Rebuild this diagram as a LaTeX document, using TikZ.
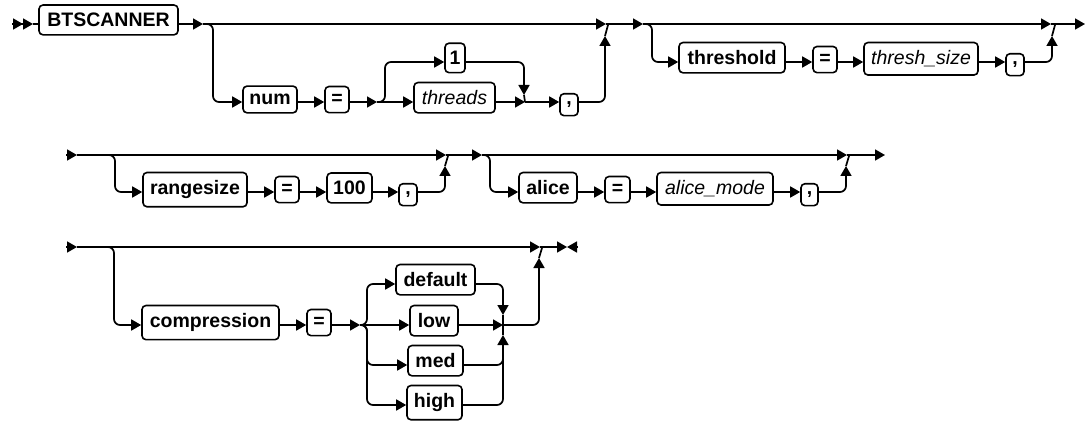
\documentclass[tikz,border=0pt]{standalone}
\usepackage{fontspec}
\setmainfont{Liberation Sans}
\usetikzlibrary{arrows.meta}
\begin{document}
\begin{tikzpicture}[x=1pt,y=-1pt,
  line width=1.7pt,
  tip/.style={-{Triangle[length=10pt,width=11pt]}},
  dtip/.style={-{Triangle[length=10pt,width=11pt]Triangle[length=10pt,width=11pt]}},
  rc/.style={rounded corners=6pt},
  kw/.style={draw, rounded corners=4pt, line width=1.6pt,
    font=\fontsize{19.5}{22}\selectfont\bfseries,
    inner xsep=3pt, inner ysep=8pt, anchor=mid, minimum height=0pt},
  var/.style={kw, font=\fontsize{19.5}{22}\selectfont\itshape},
]
\useasboundingbox (0,0) rectangle (1086,422);

% ---------- nodes, row 1
\node[kw, minimum width=139pt] (bts) at (108.5,24) {BTSCANNER};
\node[kw, minimum width=54pt] (num) at (270,102) {num};
\node[kw, minimum width=24pt] (eq1) at (337,102) {=};
\node[kw, minimum width=20pt] (one) at (455,62) {1};
\node[var, minimum width=81pt] (threads) at (454.5,102) {threads};
\node[kw, minimum width=18pt] (comma1) at (569,102) {,};
\node[kw, minimum width=106pt] (threshold) at (732,62) {threshold};
\node[kw, minimum width=24pt] (eq2) at (825,62) {=};
\node[var, minimum width=114pt] (threshsize) at (921,62) {thresh\_size};
\node[kw, minimum width=18pt] (comma2) at (1015,62) {,};
% ---------- nodes, row 2
\node[kw, minimum width=104pt] (rangesize) at (195,192) {rangesize};
\node[kw, minimum width=24pt] (eq3) at (287,192) {=};
\node[kw, minimum width=45pt] (hundred) at (349.5,192) {100};
\node[kw, minimum width=18pt] (comma3) at (408,192) {,};
\node[kw, minimum width=58pt] (alice) at (548,192) {alice};
\node[kw, minimum width=25pt] (eq4) at (617.5,192) {=};
\node[var, minimum width=116pt] (alicemode) at (715,192) {alice\_mode};
\node[kw, minimum width=17pt] (comma4) at (809.5,192) {,};
% ---------- nodes, row 3
\node[kw, minimum width=137pt] (compression) at (210.5,325) {compression};
\node[kw, minimum width=24pt] (eq5) at (319,325) {=};
\node[kw, minimum width=79pt] (default) at (435.5,284) {default};
\node[kw, minimum width=48pt] (low) at (434,325) {low};
\node[kw, minimum width=55pt] (med) at (435.5,365) {med};
\node[kw, minimum width=55pt] (high) at (434.5,405) {high};

% ---------- row 1 connectors
\coordinate (s1) at (12,24);
\coordinate (s1b) at (33,24);
\draw[dtip] (s1) -- (s1b);
\draw (s1b) -- (bts.mid west);
\coordinate (j1) at (203,24);
\draw[tip] (bts.mid east) -- (j1);
\coordinate (m1) at (606,24);
\draw[tip] (j1) -- (m1);
\draw[rc,tip] (j1) -| (213,60) |- (num.mid west);
\draw[tip] (num.mid east) -- (eq1.mid west);
\coordinate (j3) at (377,102);
\draw[tip] (eq1.mid east) -- (j3);
\draw[tip] (j3) -- (threads.mid west);
\draw[rc,tip] (j3) -| (385,80) |- (one.mid west);
\coordinate (j4) at (525,102);
\coordinate (t1) at (524,95);
\draw[tip] (threads.mid east) -- (j4);
\draw[rc,tip] (one.mid east) -| (t1);
\draw (t1) -- (j4);
\draw[tip] (j4) -- (comma1.mid west);
\coordinate (t2) at (605,36);
\draw[rc,tip] (comma1.mid east) -| (t2);
\draw (t2) -- (608,25);
\coordinate (j5) at (643,24);
\draw[tip] (m1) -- (j5);
\coordinate (m2) at (1051,24);
\draw[tip] (j5) -- (m2);
\draw[rc,tip] (j5) -| (652,40) |- (threshold.mid west);
\draw[tip] (threshold.mid east) -- (eq2.mid west);
\draw[tip] (eq2.mid east) -- (threshsize.mid west);
\draw[tip] (threshsize.mid east) -- (comma2.mid west);
\coordinate (t3) at (1052,36);
\draw[rc,tip] (comma2.mid east) -| (t3);
\draw (t3) -- (1055,25);
\coordinate (e1) at (1085,24);
\draw[tip] (m2) -- (e1);

% ---------- row 2 connectors
\coordinate (s2a) at (66,155);
\coordinate (s2) at (77,155);
\draw[tip] (s2a) -- (s2);
\coordinate (m3) at (446,155);
\draw[tip] (s2) -- (m3);
\draw[rc,tip] (s2) -| (115,170) |- (rangesize.mid west);
\draw[tip] (rangesize.mid east) -- (eq3.mid west);
\draw[tip] (eq3.mid east) -- (hundred.mid west);
\draw[tip] (hundred.mid east) -- (comma3.mid west);
\coordinate (t4) at (445,166);
\draw[rc,tip] (comma3.mid east) -| (t4);
\draw (t4) -- (448,156);
\coordinate (j6) at (482,155);
\draw[tip] (m3) -- (j6);
\coordinate (m4) at (847,155);
\draw[tip] (j6) -- (m4);
\draw[rc,tip] (j6) -| (490,170) |- (alice.mid west);
\draw[tip] (alice.mid east) -- (eq4.mid west);
\draw[tip] (eq4.mid east) -- (alicemode.mid west);
\draw[tip] (alicemode.mid east) -- (comma4.mid west);
\coordinate (t5) at (846,166);
\draw[rc,tip] (comma4.mid east) -| (t5);
\draw (t5) -- (849,156);
\coordinate (e2) at (885,155);
\draw[tip] (m4) -- (e2);

% ---------- row 3 connectors
\coordinate (s3a) at (66,247);
\coordinate (s3) at (77,247);
\draw[tip] (s3a) -- (s3);
\coordinate (m5) at (540,247);
\draw[tip] (s3) -- (m5);
\draw[rc,tip] (s3) -| (114,280) |- (compression.mid west);
\draw[tip] (compression.mid east) -- (eq5.mid west);
\coordinate (j7) at (360,325);
\draw[tip] (eq5.mid east) -- (j7);
\draw[tip] (j7) -- (low.mid west);
\draw[rc,tip] (j7) -| (367,300) |- (default.mid west);
\draw[rc,tip] (j7) -| (367,350) |- (med.mid west);
\draw[rc,tip] (j7) -| (367,380) |- (high.mid west);
\coordinate (j8) at (503,325);
\coordinate (t6) at (503,315);
\coordinate (t7) at (503,335);
\draw[rc,tip] (default.mid east) -| (t6);
\draw (t6) -- (j8);
\draw[tip] (low.mid east) -- (j8);
\draw[rc,tip] (med.mid east) -| (t7);
\draw[rc] (high.mid east) -| (503,355);
\draw (t7) -- (j8);
\coordinate (t8) at (539,258);
\draw[rc,tip] (j8) -| (t8);
\draw (t8) -- (542,248);
\coordinate (e3) at (567,247);
\coordinate (e3b) at (578,247);
\draw[tip] (m5) -- (e3);
\draw[tip] (e3b) -- (e3);
\end{tikzpicture}
\end{document}
